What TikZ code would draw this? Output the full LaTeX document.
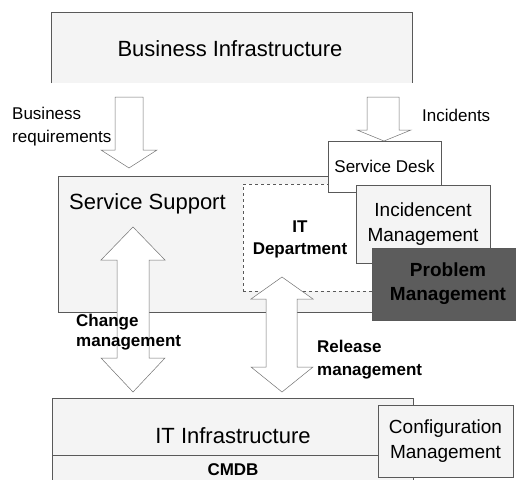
\documentclass[tikz,border=0pt]{standalone}
\usepackage{fontspec}
\setmainfont{Liberation Sans}
\usetikzlibrary{positioning}
\tikzset{
	box/.style={draw=black!65,fill=gray!9,line width=0.6pt,inner sep=0pt,align=center},
	whitebox/.style={box,fill=white},
	darkbox/.style={box,fill=black!64,text=black,font=\fontsize{19}{24}\selectfont\bfseries},
	blockarrow/.style={draw=black!55,fill=white,line width=0.5pt,line join=miter},
	label/.style={inner sep=0pt,align=left,anchor=west},
}
\newcommand{\bigfont}{\fontsize{22}{26}\selectfont}
\newcommand{\midfont}{\fontsize{19}{25}\selectfont}
\newcommand{\smallfont}{\fontsize{17}{23}\selectfont}

\begin{document}
\begin{tikzpicture}[x=1pt,y=-1pt]
		\useasboundingbox (0,0) rectangle (516,479);
		
		% Business Infrastructure (open at the bottom)
		\fill[gray!9] (51,12) rectangle (412,83);
		\draw[black!65,line width=0.6pt] (51,83) -- (51,12) -- (412,12) -- (412,83);
		\node[font=\bigfont] (bizinfra) at (230,49) {Business Infrastructure};
		
		% Service Support and IT Department
		\node[box,minimum width=342pt,minimum height=136pt] (support) at (229,244) {};
		\node[label,font=\bigfont] (supporttext) at (69,204) {Service Support};
		\node[whitebox,dashed,minimum width=137pt,minimum height=107pt] (itdept) at (311.5,237.5) {};
		\node[align=center,font=\fontsize{17}{22}\selectfont\bfseries] (itdepttext) at (300,239) {IT\\Department};
		
		% Service Desk, Incidencent and Problem Management
		\node[whitebox,minimum width=113pt,minimum height=51pt,font=\smallfont] (desk) at (384.5,166.5) {Service Desk};
		\node[box,minimum width=134pt,minimum height=78pt,font=\midfont] (incident) at (423,224) {Incidencent\\Management};
		\node[darkbox,minimum width=146pt,minimum height=72pt] (problem) at (445,284) {\hspace{6pt}Problem\\\hspace{6pt}Management};
		
		% IT Infrastructure (open at the bottom) with CMDB
		\fill[gray!9] (52,398) rectangle (413,482);
		\draw[black!65,line width=0.6pt] (52,482) -- (52,398) -- (413,398) -- (413,482);
		\draw[black!65,line width=0.6pt] (52,455) -- (378,455);
		\node[font=\bigfont] (itinfra) at (233,436) {IT Infrastructure};
		\node[font=\smallfont\bfseries] (cmdb) at (233,470) {CMDB};
		\node[box,minimum width=135pt,minimum height=72pt,font=\midfont] (config) at (445.5,441) {Configuration\\Management};
		
		% block arrows from Business Infrastructure
		\draw[blockarrow] (115,97) -- (143,97) -- (143,150) -- (157,150) -- (129,168)
			-- (101,150) -- (115,150) -- cycle;
		\draw[blockarrow] (367,97) -- (399,97) -- (399,130) -- (411,130) -- (384,141)
			-- (357,130) -- (367,130) -- cycle;
		
		% two-way block arrows down to IT Infrastructure
		\draw[blockarrow] (133,227) -- (165,260) -- (149,260) -- (149,358) -- (165,358)
			-- (133,392) -- (101,358) -- (117,358) -- (117,260) -- (101,260) -- cycle;
		\draw[blockarrow] (282,277) -- (313,299) -- (297,299) -- (297,367) -- (313,367)
			-- (282,392) -- (251,367) -- (266,367) -- (266,299) -- (251,299) -- cycle;
		
		% labels on the arrows
		\node[label,font=\smallfont] (bizreq) at (12,127) {Business\\requirements};
		\node[label,font=\smallfont] (incidents) at (422,115) {Incidents};
		\node[label,font=\fontsize{17}{20}\selectfont\bfseries] (change) at (76,332) {Change\\management};
		\node[label,font=\fontsize{17}{23}\selectfont\bfseries] (release) at (317,360) {Release\\management};
		
\end{tikzpicture}
\end{document}
